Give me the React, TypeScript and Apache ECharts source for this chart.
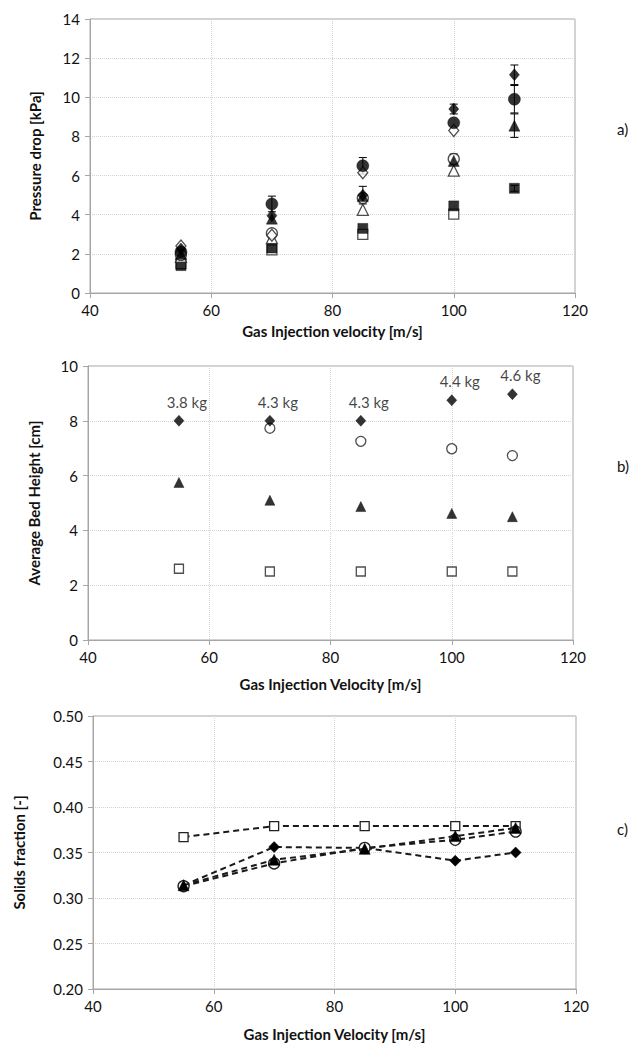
import React, { useEffect, useRef } from "react";
import * as echarts from "echarts";

// ---------- data ----------
const velocities = [55, 70, 85, 100, 110];

// Panel a: pressure drop [kPa]
const dpFilledDiamond = [2.25, 3.95, 5.0, 9.4, 11.15];
const dpFilledCircle = [2.1, 4.55, 6.5, 8.7, 9.9];
const dpFilledTriangle = [2.0, 3.8, 4.95, 6.75, 8.55];
const dpFilledSquare = [1.4, 2.3, 3.3, 4.45, 5.35];
const dpOpenDiamond = [2.4, 2.95, 6.15, 8.3, null];
const dpOpenCircle = [1.95, 3.05, 4.85, 6.85, null];
const dpOpenTriangle = [1.85, 2.8, 4.25, 6.25, null];
const dpOpenSquare = [1.5, 2.2, 3.0, 4.03, null];

// error bar half-widths (kPa)
const errFilledDiamond = [null, null, 0.45, 0.25, 0.5];
const errFilledCircle = [null, 0.4, 0.42, null, 0.7];
const errFilledTriangle = [null, null, null, null, 0.6];
const errFilledSquare = [null, null, null, null, 0.15];
const errOpenCircle = [null, null, null, 0.25, null];

// Panel b: average bed height [cm]
const bedDiamond = [8.0, 8.0, 8.0, 8.75, 8.97];
const bedCircle = [null, 7.73, 7.25, 6.98, 6.73];
const bedTriangle = [5.75, 5.1, 4.87, 4.62, 4.5];
const bedSquare = [2.6, 2.5, 2.5, 2.5, 2.5];
const massLabels = ["3.8 kg", "4.3 kg", "4.3 kg", "4.4 kg", "4.6 kg"];

// Panel c: solids fraction [-]
const sfSquare = [0.367, 0.379, 0.379, 0.379, 0.379];
const sfDiamond = [0.314, 0.356, 0.355, 0.341, 0.35];
const sfCircle = [0.313, 0.338, 0.355, 0.364, 0.373];
const sfTriangle = [0.314, 0.342, 0.354, 0.368, 0.377];

const xTicks = { min: 40, max: 120, interval: 20 };

// ---------- helpers ----------
const FONT = "Lato";
const pairs = (vals: (number | null)[]) =>
  velocities
    .map((x, i) => (vals[i] == null ? null : [x, vals[i] as number]))
    .filter((p) => p !== null) as number[][];

const markerStyle = (filled: boolean) =>
  filled
    ? { color: "#000", borderColor: "#000", borderWidth: 0.5 }
    : { color: "#fff", borderColor: "#222", borderWidth: 1.3 };

function scatter(
  name: string,
  vals: (number | null)[],
  symbol: string,
  size: number | number[],
  filled: boolean,
  gi: number,
  z = 3
) {
  return {
    type: "scatter",
    name,
    xAxisIndex: gi,
    yAxisIndex: gi,
    symbol,
    symbolSize: size,
    data: pairs(vals),
    itemStyle: markerStyle(filled),
    z,
  };
}

function errorBars(vals: (number | null)[], errs: (number | null)[]) {
  return velocities
    .map((x, i) =>
      vals[i] == null || errs[i] == null
        ? null
        : [x, (vals[i] as number) - (errs[i] as number), (vals[i] as number) + (errs[i] as number)]
    )
    .filter((p) => p !== null) as number[][];
}

const axisLine = { show: true, lineStyle: { color: "#a6a6a6", width: 1 } };
const axisTick = { show: true, length: 5, lineStyle: { color: "#a6a6a6" } };
const splitLine = { show: true, lineStyle: { color: "#d4d4d4", type: "dotted", width: 1 } };
const labelStyle = { color: "#111", fontSize: 15, fontFamily: FONT };
const nameStyle = { color: "#111", fontSize: 15, fontWeight: "bold", fontFamily: FONT };

function xAxis(gi: number, name: string, nameGap: number) {
  return {
    type: "value",
    gridIndex: gi,
    ...xTicks,
    axisLine,
    axisTick,
    splitLine,
    axisLabel: { ...labelStyle, margin: 9 },
    name,
    nameLocation: "middle",
    nameGap,
    nameTextStyle: nameStyle,
  };
}

function yAxis(gi: number, min: number, max: number, interval: number, name: string, nameGap: number, dec = 0) {
  return {
    type: "value",
    gridIndex: gi,
    min,
    max,
    interval,
    axisLine,
    axisTick,
    splitLine,
    axisLabel: {
      ...labelStyle,
      margin: 10,
      formatter: (v: number) => v.toFixed(dec),
    },
    name,
    nameLocation: "middle",
    nameGap,
    nameTextStyle: nameStyle,
  };
}

function dashed(name: string, vals: number[], symbol: string, size: number, filled: boolean, z: number) {
  return {
    type: "line",
    name,
    xAxisIndex: 2,
    yAxisIndex: 2,
    data: pairs(vals),
    symbol,
    symbolSize: size,
    showAllSymbol: true,
    lineStyle: { color: "#1a1a1a", width: 2, type: [6, 4] },
    itemStyle: markerStyle(filled),
    z,
  };
}

export default function App() {
  const ref = useRef<HTMLDivElement>(null);

  useEffect(() => {
    if (!ref.current) return;
    const chart = echarts.init(ref.current, null, { renderer: "svg" });

    const errData = [
      ...errorBars(dpFilledDiamond, errFilledDiamond),
      ...errorBars(dpFilledCircle, errFilledCircle),
      ...errorBars(dpFilledTriangle, errFilledTriangle),
      ...errorBars(dpFilledSquare, errFilledSquare),
      ...errorBars(dpOpenCircle, errOpenCircle),
    ];

    const option: any = {
      animation: false,
      backgroundColor: "#fff",
      textStyle: { fontFamily: FONT },
      grid: [
        { left: 90, right: 64, top: 19, height: 274, show: true, borderColor: "#a6a6a6", borderWidth: 1 },
        { left: 88, right: 66, top: 366, height: 274, show: true, borderColor: "#a6a6a6", borderWidth: 1 },
        { left: 93, right: 63, top: 716, height: 273, show: true, borderColor: "#a6a6a6", borderWidth: 1 },
      ],
      xAxis: [
        xAxis(0, "Gas Injection velocity [m/s]", 30),
        xAxis(1, "Gas Injection Velocity [m/s]", 36),
        xAxis(2, "Gas Injection Velocity [m/s]", 37),
      ],
      yAxis: [
        yAxis(0, 0, 14, 2, "Pressure drop [kPa]", 48),
        yAxis(1, 0, 10, 2, "Average Bed Height [cm]", 47),
        yAxis(2, 0.2, 0.5, 0.05, "Solids fraction [-]", 67, 2),
      ],
      series: [
        {
          type: "custom",
          xAxisIndex: 0,
          yAxisIndex: 0,
          z: 2,
          data: errData,
          encode: { x: 0, y: [1, 2] },
          renderItem: (params: any, api: any) => {
            const x = api.value(0);
            const top = api.coord([x, api.value(2)]);
            const bot = api.coord([x, api.value(1)]);
            const w = 4;
            const st = { stroke: "#000", lineWidth: 1 };
            return {
              type: "group",
              children: [
                { type: "line", shape: { x1: top[0], y1: top[1], x2: bot[0], y2: bot[1] }, style: st },
                { type: "line", shape: { x1: top[0] - w, y1: top[1], x2: top[0] + w, y2: top[1] }, style: st },
                { type: "line", shape: { x1: bot[0] - w, y1: bot[1], x2: bot[0] + w, y2: bot[1] }, style: st },
              ],
            };
          },
        },
        scatter("open square", dpOpenSquare, "rect", 10, false, 0),
        scatter("filled square", dpFilledSquare, "rect", 10, true, 0),
        scatter("open triangle", dpOpenTriangle, "triangle", 11, false, 0),
        scatter("open circle", dpOpenCircle, "circle", 11, false, 0),
        scatter("open diamond", dpOpenDiamond, "diamond", [10, 12], false, 0),
        scatter("filled triangle", dpFilledTriangle, "triangle", 11, true, 0),
        scatter("filled circle", dpFilledCircle, "circle", 12, true, 0),
        scatter("filled diamond", dpFilledDiamond, "diamond", [10, 12], true, 0),

        scatter("b square", bedSquare, "rect", 9, false, 1),
        scatter("b triangle", bedTriangle, "triangle", 10, true, 1),
        scatter("b circle", bedCircle, "circle", 10, false, 1),
        {
          ...scatter("b diamond", bedDiamond, "diamond", [10, 11], true, 1, 4),
          label: {
            show: true,
            position: "top",
            offset: [8, -1],
            color: "#111",
            fontSize: 15,
            fontFamily: FONT,
            formatter: (p: any) => massLabels[p.dataIndex],
          },
        },

        dashed("c square", sfSquare, "rect", 9, false, 3),
        dashed("c diamond", sfDiamond, "diamond", 11, true, 4),
        dashed("c circle", sfCircle, "circle", 11, false, 5),
        dashed("c triangle", sfTriangle, "triangle", 11, true, 6),
      ],
      graphic: [
        { type: "text", left: 617, top: 121, style: { text: "a)", font: `15px ${FONT}`, fill: "#111" } },
        { type: "text", left: 617, top: 458, style: { text: "b)", font: `15px ${FONT}`, fill: "#111" } },
        { type: "text", left: 617, top: 821, style: { text: "c)", font: `15px ${FONT}`, fill: "#111" } },
      ],
    };

    chart.setOption(option);
    return () => chart.dispose();
  }, []);

  return (
    <div
      ref={ref}
      style={{ position: "absolute", left: 0, top: 0, width: 639, height: 1050, background: "#fff" }}
    />
  );
}
